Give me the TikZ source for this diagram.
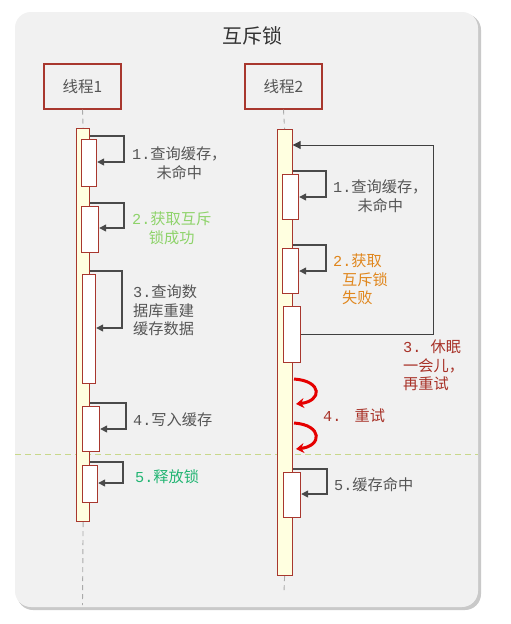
\documentclass[tikz,border=0pt]{standalone}
\usepackage{fontspec}
\setmainfont{Noto Sans CJK SC}
\newfontfamily\dgt{Liberation Mono}
\usetikzlibrary{arrows.meta}
\definecolor{panel}{HTML}{F1F1F1}
\definecolor{shadowc}{HTML}{C9C9C9}
\definecolor{brd}{HTML}{A8372E}
\definecolor{barfill}{HTML}{FFFFE0}
\definecolor{txt}{HTML}{555555}
\definecolor{arrc}{HTML}{4A4A4A}
\definecolor{lgreen}{HTML}{8ED36A}
\definecolor{dgreen}{HTML}{22B573}
\definecolor{orng}{HTML}{E0861C}
\definecolor{dred}{HTML}{A83228}
\definecolor{sepc}{HTML}{C8D88A}
\definecolor{lifec}{HTML}{AAAAAA}
\newcommand\actbox[6]{\node[#6, anchor=north west, minimum width={#4pt-#2pt}, minimum height={#5pt-#3pt}] (#1) at (#2,#3) {};}
\newcommand\nm[1]{{\dgt #1}}
\begin{document}
\begin{tikzpicture}[x=1pt,y=-1pt,
  thread/.style={draw=brd, line width=1.3pt, fill=panel, minimum width=77pt, minimum height=45pt,
    font=\fontsize{15.5}{18}\selectfont, text=txt, inner sep=0pt},
  actbar/.style={draw=brd, line width=1.2pt, fill=barfill, inner sep=0pt},
  act/.style={draw=brd, line width=1.2pt, fill=white, inner sep=0pt},
  selfmsg/.style={draw=arrc, line width=1.3pt, -{Triangle[length=7pt,width=7pt]}},
  life/.style={draw=lifec, line width=0.9pt, dash pattern=on 5pt off 4pt},
  lbl/.style={font=\fontsize{15.2}{18.5}\selectfont, anchor=north west, inner sep=0pt, text=txt},
  retry/.style={draw=red!90!black, line width=3pt, -{Stealth[length=8pt,width=10pt]}}
]
\useasboundingbox (0,0) rectangle (511,624);
\fill[white] (0,0) rectangle (511,624);
% panel
\fill[shadowc, rounded corners=16pt] (17,14) rectangle (481,610);
\fill[panel, rounded corners=16pt] (15,12) rectangle (478,607);
\node[font=\fontsize{20}{24}\selectfont, text=black!80] (title) at (252,36) {互斥锁};
% separator
\draw[sepc, line width=0.9pt, dash pattern=on 6pt off 4pt] (15,454) -- (478,454);
% threads
\node[thread] (t1) at (82.5,86.5) {线程1};
\node[thread] (t2) at (283.5,86.5) {线程2};
\actbox{bar1}{76}{128}{89}{521}{actbar}
\actbox{bar2}{276.5}{129}{291.5}{575}{actbar}
\coordinate (e1) at (82.5,605);
\coordinate (e2) at (284,592);
\draw[life] (t1.south) -- (bar1.north);
\draw[life] (t2.south) -- (bar2.north);
\draw[life] (bar1.south) -- (e1);
\draw[life] (bar2.south) -- (e2);
% thread 1 activations
\actbox{b1}{81}{139}{96}{186}{act}
\actbox{b2}{81}{206}{98}{252}{act}
\actbox{b3}{82}{274}{95}{383}{act}
\actbox{b4}{82}{406}{99}{451}{act}
\actbox{b5}{82}{465}{97}{502}{act}
% thread 2 activations
\actbox{c1}{282}{174}{298}{219}{act}
\actbox{c2}{282}{248}{298}{293}{act}
\actbox{c3}{283}{306}{300}{362}{act}
\actbox{c5}{283}{472}{300}{517}{act}
% thread 1 self messages
\draw[selfmsg] (bar1.east |- 0,136) -- (124,136) -- (124,162) -- (b1.east |- 0,162);
\draw[selfmsg] (bar1.east |- 0,203) -- (124,203) -- (124,228) -- (b2.east |- 0,228);
\draw[selfmsg] (bar1.east |- 0,271) -- (122,271) -- (122,328) -- (b3.east |- 0,328);
\draw[selfmsg] (bar1.east |- 0,403) -- (126,403) -- (126,429) -- (b4.east |- 0,429);
\draw[selfmsg] (bar1.east |- 0,462) -- (123,462) -- (123,483) -- (b5.east |- 0,483);
% thread 2 self messages
\draw[selfmsg] (bar2.east |- 0,171) -- (326,171) -- (326,197) -- (c1.east |- 0,197);
\draw[selfmsg] (bar2.east |- 0,245) -- (326,245) -- (326,271) -- (c2.east |- 0,271);
\draw[selfmsg] (bar2.east |- 0,469) -- (327,469) -- (327,494) -- (c5.east |- 0,494);
\draw[line width=1pt, -{Triangle[length=8pt,width=8pt]}, draw=black!75]
  (c3.east |- 0,334) -- (433,334) -- (433,145) -- (bar2.east |- 0,145);
% retry arrows
\coordinate (r1s) at (294,379);
\coordinate (r1e) at (296,404);
\coordinate (r2s) at (294,423);
\coordinate (r2e) at (296,449);
\draw[retry] (r1s) .. controls (323,381) and (322,401) .. (r1e);
\draw[retry] (r2s) .. controls (323,425) and (322,446) .. (r2e);
% thread 1 labels
\node[lbl, align=center] (l11) at (132,147) {\nm{1.}查询缓存，\\未命中};
\node[lbl, align=center, text=lgreen] (l12) at (132,212) {\nm{2.}获取互斥\\锁成功};
\node[lbl, align=left] (l13) at (133,285) {\nm{3.}查询数\\据库重建\\缓存数据};
\node[lbl] (l14) at (133,413) {\nm{4.}写入缓存};
\node[lbl, text=dgreen] (l15) at (135,469) {\nm{5.}释放锁};
% thread 2 labels
\node[lbl, align=center] (l21) at (333,180) {\nm{1.}查询缓存，\\未命中};
\node[lbl, align=left, text=orng] (l22) at (333,254) {\nm{2.}获取\\\hspace*{9pt}互斥锁\\\hspace*{9pt}失败};
\node[lbl, align=left, text=dred] (l23) at (403,340) {\nm{3.\ }休眠\\一会儿，\\再重试};
\node[lbl, text=dred] (l24) at (323,409) {\nm{4.\ }\hspace{4pt}重试};
\node[lbl] (l25) at (334,477) {\nm{5.}缓存命中};
\end{tikzpicture}
\end{document}
